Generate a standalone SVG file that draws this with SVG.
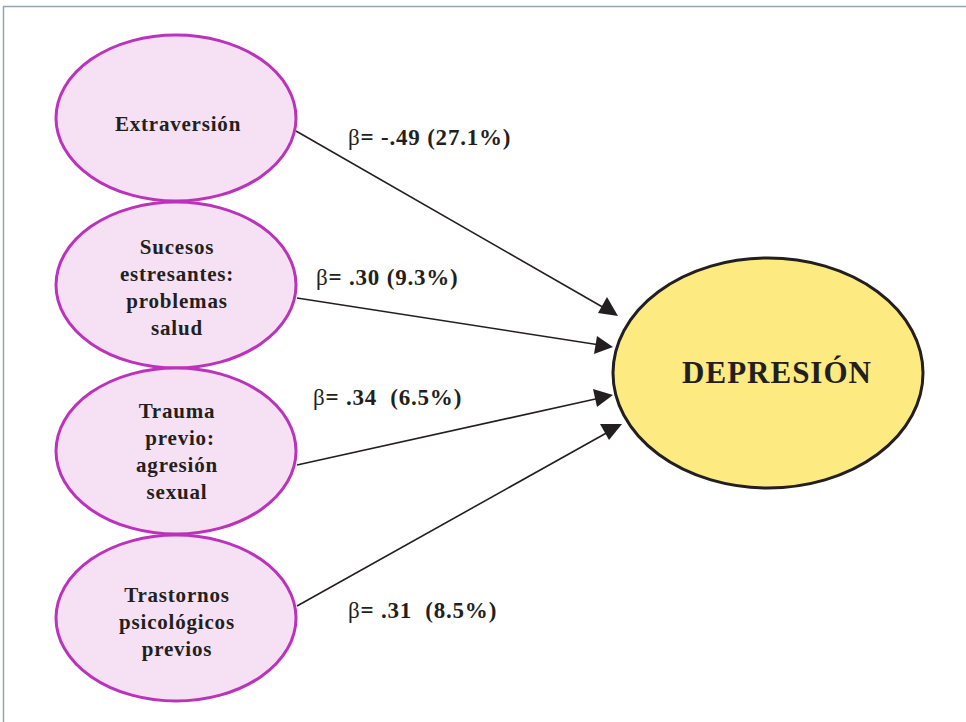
<svg xmlns="http://www.w3.org/2000/svg" width="966" height="722" viewBox="0 0 966 722">
  <style>
    .frame { fill: none; stroke: #8fa6b8; stroke-width: 1.5; }
    .pred ellipse { fill: #f6e1f4; stroke: #bb33bb; stroke-width: 3; }
    .pred text { font-family: "Liberation Serif", "DejaVu Serif", serif; font-weight: bold; font-size: 21px; letter-spacing: 0.8px; fill: #231f20; text-anchor: middle; }
    .outcome ellipse { fill: #fdea80; stroke: #231f20; stroke-width: 3; }
    .outcome text { font-family: "Liberation Serif", "DejaVu Serif", serif; font-weight: bold; font-size: 31px; letter-spacing: 1px; fill: #231f20; text-anchor: middle; }
    .edge { stroke: #231f20; stroke-width: 1.6; fill: none; }
    .head { fill: #231f20; }
    .coef { font-family: "Liberation Serif", "DejaVu Serif", serif; font-weight: bold; font-size: 23px; letter-spacing: 0.8px; fill: #231f20; white-space: pre; }
    .coef .beta { font-weight: normal; }
  </style>

  <path class="frame" d="M3.5,722 V6.5 H966"/>

  <g id="connectors">
    <line class="edge" x1="296" y1="131" x2="606" y2="309"/>
    <path class="head" d="M618,316 L598,313 L607,297 Z"/>
    <line class="edge" x1="297" y1="298" x2="600" y2="345"/>
    <path class="head" d="M613,347 L594,354 L597,336 Z"/>
    <line class="edge" x1="297" y1="465" x2="600" y2="398"/>
    <path class="head" d="M613,395 L597,407 L593,389 Z"/>
    <line class="edge" x1="297" y1="606" x2="610" y2="431"/>
    <path class="head" d="M622,424 L609,440 L600,424 Z"/>
  </g>

  <g id="labels" xml:space="preserve">
    <text class="coef" x="348" y="145"><tspan class="beta">β</tspan>= -.49 (27.1%)</text>
    <text class="coef" x="316" y="285"><tspan class="beta">β</tspan>= .30 (9.3%)</text>
    <text class="coef" x="313" y="405"><tspan class="beta">β</tspan>= .34  (6.5%)</text>
    <text class="coef" x="348" y="618"><tspan class="beta">β</tspan>= .31  (8.5%)</text>
  </g>

  <g id="extraversion" class="pred">
    <ellipse cx="176" cy="118" rx="120" ry="83"/>
    <text x="178" y="131">Extraversión</text>
  </g>

  <g id="sucesos" class="pred">
    <ellipse cx="176" cy="285" rx="120" ry="83"/>
    <text x="177" y="254">Sucesos</text>
    <text x="177" y="281">estresantes:</text>
    <text x="177" y="308">problemas</text>
    <text x="177" y="335">salud</text>
  </g>

  <g id="trauma" class="pred">
    <ellipse cx="176" cy="451" rx="120" ry="83"/>
    <text x="177" y="418">Trauma</text>
    <text x="180" y="445">previo:</text>
    <text x="177" y="472">agresión</text>
    <text x="177" y="499">sexual</text>
  </g>

  <g id="trastornos" class="pred">
    <ellipse cx="176" cy="618" rx="120" ry="83"/>
    <text x="177" y="602">Trastornos</text>
    <text x="177" y="629">psicológicos</text>
    <text x="177" y="656">previos</text>
  </g>

  <g id="depresion" class="outcome">
    <ellipse cx="768" cy="373" rx="155" ry="115"/>
    <text x="777" y="383">DEPRESIÓN</text>
  </g>
</svg>
